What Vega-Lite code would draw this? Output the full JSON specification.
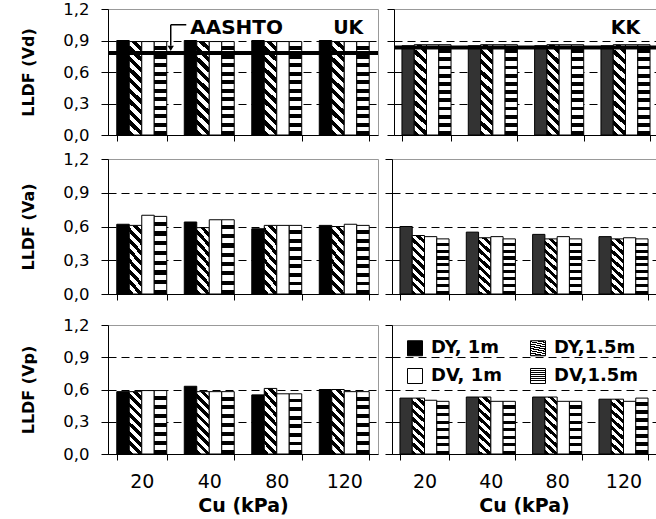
{
  "$schema": "https://vega.github.io/schema/vega-lite/v6.json",
  "padding": {"left": 20, "top": 0, "right": 0, "bottom": 0},
  "background": "white",
  "params": [
    {"name": "hTop", "expr": "{gradient:'linear',x1:0,y1:0,x2:0,y2:1,stops:[{offset:0,color:'#fff'},{offset:0.05,color:'#fff'},{offset:0.05,color:'#000'},{offset:0.0909,color:'#000'},{offset:0.0909,color:'#fff'},{offset:0.1409,color:'#fff'},{offset:0.1409,color:'#000'},{offset:0.1818,color:'#000'},{offset:0.1818,color:'#fff'},{offset:0.2318,color:'#fff'},{offset:0.2318,color:'#000'},{offset:0.2727,color:'#000'},{offset:0.2727,color:'#fff'},{offset:0.3227,color:'#fff'},{offset:0.3227,color:'#000'},{offset:0.3636,color:'#000'},{offset:0.3636,color:'#fff'},{offset:0.4136,color:'#fff'},{offset:0.4136,color:'#000'},{offset:0.4545,color:'#000'},{offset:0.4545,color:'#fff'},{offset:0.5045,color:'#fff'},{offset:0.5045,color:'#000'},{offset:0.5455,color:'#000'},{offset:0.5455,color:'#fff'},{offset:0.5955,color:'#fff'},{offset:0.5955,color:'#000'},{offset:0.6364,color:'#000'},{offset:0.6364,color:'#fff'},{offset:0.6864,color:'#fff'},{offset:0.6864,color:'#000'},{offset:0.7273,color:'#000'},{offset:0.7273,color:'#fff'},{offset:0.7773,color:'#fff'},{offset:0.7773,color:'#000'},{offset:0.8182,color:'#000'},{offset:0.8182,color:'#fff'},{offset:0.8682,color:'#fff'},{offset:0.8682,color:'#000'},{offset:0.9091,color:'#000'},{offset:0.9091,color:'#fff'},{offset:0.9591,color:'#fff'},{offset:0.9591,color:'#000'},{offset:1,color:'#000'}]}"},
    {"name": "hMid", "expr": "{gradient:'linear',x1:0,y1:0,x2:0,y2:1,stops:[{offset:0,color:'#fff'},{offset:0.06875,color:'#fff'},{offset:0.06875,color:'#000'},{offset:0.125,color:'#000'},{offset:0.125,color:'#fff'},{offset:0.19375,color:'#fff'},{offset:0.19375,color:'#000'},{offset:0.25,color:'#000'},{offset:0.25,color:'#fff'},{offset:0.31875,color:'#fff'},{offset:0.31875,color:'#000'},{offset:0.375,color:'#000'},{offset:0.375,color:'#fff'},{offset:0.44375,color:'#fff'},{offset:0.44375,color:'#000'},{offset:0.5,color:'#000'},{offset:0.5,color:'#fff'},{offset:0.56875,color:'#fff'},{offset:0.56875,color:'#000'},{offset:0.625,color:'#000'},{offset:0.625,color:'#fff'},{offset:0.69375,color:'#fff'},{offset:0.69375,color:'#000'},{offset:0.75,color:'#000'},{offset:0.75,color:'#fff'},{offset:0.81875,color:'#fff'},{offset:0.81875,color:'#000'},{offset:0.875,color:'#000'},{offset:0.875,color:'#fff'},{offset:0.94375,color:'#fff'},{offset:0.94375,color:'#000'},{offset:1,color:'#000'}]}"},
    {"name": "hBot", "expr": "{gradient:'linear',x1:0,y1:0,x2:0,y2:1,stops:[{offset:0,color:'#fff'},{offset:0.0786,color:'#fff'},{offset:0.0786,color:'#000'},{offset:0.1429,color:'#000'},{offset:0.1429,color:'#fff'},{offset:0.2214,color:'#fff'},{offset:0.2214,color:'#000'},{offset:0.2857,color:'#000'},{offset:0.2857,color:'#fff'},{offset:0.3643,color:'#fff'},{offset:0.3643,color:'#000'},{offset:0.4286,color:'#000'},{offset:0.4286,color:'#fff'},{offset:0.5071,color:'#fff'},{offset:0.5071,color:'#000'},{offset:0.5714,color:'#000'},{offset:0.5714,color:'#fff'},{offset:0.65,color:'#fff'},{offset:0.65,color:'#000'},{offset:0.7143,color:'#000'},{offset:0.7143,color:'#fff'},{offset:0.7929,color:'#fff'},{offset:0.7929,color:'#000'},{offset:0.8571,color:'#000'},{offset:0.8571,color:'#fff'},{offset:0.9357,color:'#fff'},{offset:0.9357,color:'#000'},{offset:1,color:'#000'}]}"},
    {"name": "dTop", "expr": "{gradient:'linear',x1:1,y1:0,x2:0.856,y2:1.111,stops:[{offset:0,color:'#fff'},{offset:0.05,color:'#fff'},{offset:0.05,color:'#000'},{offset:0.1,color:'#000'},{offset:0.1,color:'#fff'},{offset:0.15,color:'#fff'},{offset:0.15,color:'#000'},{offset:0.2,color:'#000'},{offset:0.2,color:'#fff'},{offset:0.25,color:'#fff'},{offset:0.25,color:'#000'},{offset:0.3,color:'#000'},{offset:0.3,color:'#fff'},{offset:0.35,color:'#fff'},{offset:0.35,color:'#000'},{offset:0.4,color:'#000'},{offset:0.4,color:'#fff'},{offset:0.45,color:'#fff'},{offset:0.45,color:'#000'},{offset:0.5,color:'#000'},{offset:0.5,color:'#fff'},{offset:0.55,color:'#fff'},{offset:0.55,color:'#000'},{offset:0.6,color:'#000'},{offset:0.6,color:'#fff'},{offset:0.65,color:'#fff'},{offset:0.65,color:'#000'},{offset:0.7,color:'#000'},{offset:0.7,color:'#fff'},{offset:0.75,color:'#fff'},{offset:0.75,color:'#000'},{offset:0.8,color:'#000'},{offset:0.8,color:'#fff'},{offset:0.85,color:'#fff'},{offset:0.85,color:'#000'},{offset:0.9,color:'#000'},{offset:0.9,color:'#fff'},{offset:0.95,color:'#fff'},{offset:0.95,color:'#000'},{offset:1,color:'#000'}]}"},
    {"name": "dMid", "expr": "{gradient:'linear',x1:1,y1:0,x2:0.769,y2:1.154,stops:[{offset:0,color:'#fff'},{offset:0.0625,color:'#fff'},{offset:0.0625,color:'#000'},{offset:0.125,color:'#000'},{offset:0.125,color:'#fff'},{offset:0.1875,color:'#fff'},{offset:0.1875,color:'#000'},{offset:0.25,color:'#000'},{offset:0.25,color:'#fff'},{offset:0.3125,color:'#fff'},{offset:0.3125,color:'#000'},{offset:0.375,color:'#000'},{offset:0.375,color:'#fff'},{offset:0.4375,color:'#fff'},{offset:0.4375,color:'#000'},{offset:0.5,color:'#000'},{offset:0.5,color:'#fff'},{offset:0.5625,color:'#fff'},{offset:0.5625,color:'#000'},{offset:0.625,color:'#000'},{offset:0.625,color:'#fff'},{offset:0.6875,color:'#fff'},{offset:0.6875,color:'#000'},{offset:0.75,color:'#000'},{offset:0.75,color:'#fff'},{offset:0.8125,color:'#fff'},{offset:0.8125,color:'#000'},{offset:0.875,color:'#000'},{offset:0.875,color:'#fff'},{offset:0.9375,color:'#fff'},{offset:0.9375,color:'#000'},{offset:1,color:'#000'}]}"},
    {"name": "lDiag", "expr": "{gradient:'linear',x1:1,y1:0,x2:0,y2:1,stops:[{offset:0,color:'#fff'},{offset:0.1667,color:'#fff'},{offset:0.1667,color:'#000'},{offset:0.3333,color:'#000'},{offset:0.3333,color:'#fff'},{offset:0.5,color:'#fff'},{offset:0.5,color:'#000'},{offset:0.6667,color:'#000'},{offset:0.6667,color:'#fff'},{offset:0.8333,color:'#fff'},{offset:0.8333,color:'#000'},{offset:1,color:'#000'}]}"},
    {"name": "lHor", "expr": "{gradient:'linear',x1:0,y1:0,x2:0,y2:1,stops:[{offset:0,color:'#fff'},{offset:0.1833,color:'#fff'},{offset:0.1833,color:'#000'},{offset:0.3333,color:'#000'},{offset:0.3333,color:'#fff'},{offset:0.5167,color:'#fff'},{offset:0.5167,color:'#000'},{offset:0.6667,color:'#000'},{offset:0.6667,color:'#fff'},{offset:0.85,color:'#fff'},{offset:0.85,color:'#000'},{offset:1,color:'#000'}]}"}
  ],
  "datasets": {
    "bars": [
      {"s":"UK","c":"Vd","cu":"20","series":"DY, 1m","v":0.90},{"s":"UK","c":"Vd","cu":"20","series":"DY,1.5m","v":0.89},{"s":"UK","c":"Vd","cu":"20","series":"DV, 1m","v":0.89},{"s":"UK","c":"Vd","cu":"20","series":"DV,1.5m","v":0.89},
      {"s":"UK","c":"Vd","cu":"40","series":"DY, 1m","v":0.90},{"s":"UK","c":"Vd","cu":"40","series":"DY,1.5m","v":0.89},{"s":"UK","c":"Vd","cu":"40","series":"DV, 1m","v":0.89},{"s":"UK","c":"Vd","cu":"40","series":"DV,1.5m","v":0.89},
      {"s":"UK","c":"Vd","cu":"80","series":"DY, 1m","v":0.90},{"s":"UK","c":"Vd","cu":"80","series":"DY,1.5m","v":0.89},{"s":"UK","c":"Vd","cu":"80","series":"DV, 1m","v":0.89},{"s":"UK","c":"Vd","cu":"80","series":"DV,1.5m","v":0.89},
      {"s":"UK","c":"Vd","cu":"120","series":"DY, 1m","v":0.90},{"s":"UK","c":"Vd","cu":"120","series":"DY,1.5m","v":0.89},{"s":"UK","c":"Vd","cu":"120","series":"DV, 1m","v":0.89},{"s":"UK","c":"Vd","cu":"120","series":"DV,1.5m","v":0.89},
      {"s":"KK","c":"Vd","cu":"20","series":"DY, 1m","v":0.85},{"s":"KK","c":"Vd","cu":"20","series":"DY,1.5m","v":0.86},{"s":"KK","c":"Vd","cu":"20","series":"DV, 1m","v":0.86},{"s":"KK","c":"Vd","cu":"20","series":"DV,1.5m","v":0.86},
      {"s":"KK","c":"Vd","cu":"40","series":"DY, 1m","v":0.85},{"s":"KK","c":"Vd","cu":"40","series":"DY,1.5m","v":0.86},{"s":"KK","c":"Vd","cu":"40","series":"DV, 1m","v":0.86},{"s":"KK","c":"Vd","cu":"40","series":"DV,1.5m","v":0.86},
      {"s":"KK","c":"Vd","cu":"80","series":"DY, 1m","v":0.85},{"s":"KK","c":"Vd","cu":"80","series":"DY,1.5m","v":0.86},{"s":"KK","c":"Vd","cu":"80","series":"DV, 1m","v":0.86},{"s":"KK","c":"Vd","cu":"80","series":"DV,1.5m","v":0.86},
      {"s":"KK","c":"Vd","cu":"120","series":"DY, 1m","v":0.85},{"s":"KK","c":"Vd","cu":"120","series":"DY,1.5m","v":0.86},{"s":"KK","c":"Vd","cu":"120","series":"DV, 1m","v":0.86},{"s":"KK","c":"Vd","cu":"120","series":"DV,1.5m","v":0.86},
      {"s":"UK","c":"Va","cu":"20","series":"DY, 1m","v":0.62},{"s":"UK","c":"Va","cu":"20","series":"DY,1.5m","v":0.61},{"s":"UK","c":"Va","cu":"20","series":"DV, 1m","v":0.70},{"s":"UK","c":"Va","cu":"20","series":"DV,1.5m","v":0.69},
      {"s":"UK","c":"Va","cu":"40","series":"DY, 1m","v":0.64},{"s":"UK","c":"Va","cu":"40","series":"DY,1.5m","v":0.59},{"s":"UK","c":"Va","cu":"40","series":"DV, 1m","v":0.66},{"s":"UK","c":"Va","cu":"40","series":"DV,1.5m","v":0.66},
      {"s":"UK","c":"Va","cu":"80","series":"DY, 1m","v":0.58},{"s":"UK","c":"Va","cu":"80","series":"DY,1.5m","v":0.61},{"s":"UK","c":"Va","cu":"80","series":"DV, 1m","v":0.61},{"s":"UK","c":"Va","cu":"80","series":"DV,1.5m","v":0.61},
      {"s":"UK","c":"Va","cu":"120","series":"DY, 1m","v":0.61},{"s":"UK","c":"Va","cu":"120","series":"DY,1.5m","v":0.60},{"s":"UK","c":"Va","cu":"120","series":"DV, 1m","v":0.62},{"s":"UK","c":"Va","cu":"120","series":"DV,1.5m","v":0.61},
      {"s":"KK","c":"Va","cu":"20","series":"DY, 1m","v":0.60},{"s":"KK","c":"Va","cu":"20","series":"DY,1.5m","v":0.52},{"s":"KK","c":"Va","cu":"20","series":"DV, 1m","v":0.51},{"s":"KK","c":"Va","cu":"20","series":"DV,1.5m","v":0.49},
      {"s":"KK","c":"Va","cu":"40","series":"DY, 1m","v":0.55},{"s":"KK","c":"Va","cu":"40","series":"DY,1.5m","v":0.50},{"s":"KK","c":"Va","cu":"40","series":"DV, 1m","v":0.51},{"s":"KK","c":"Va","cu":"40","series":"DV,1.5m","v":0.49},
      {"s":"KK","c":"Va","cu":"80","series":"DY, 1m","v":0.53},{"s":"KK","c":"Va","cu":"80","series":"DY,1.5m","v":0.49},{"s":"KK","c":"Va","cu":"80","series":"DV, 1m","v":0.51},{"s":"KK","c":"Va","cu":"80","series":"DV,1.5m","v":0.49},
      {"s":"KK","c":"Va","cu":"120","series":"DY, 1m","v":0.51},{"s":"KK","c":"Va","cu":"120","series":"DY,1.5m","v":0.49},{"s":"KK","c":"Va","cu":"120","series":"DV, 1m","v":0.50},{"s":"KK","c":"Va","cu":"120","series":"DV,1.5m","v":0.49},
      {"s":"UK","c":"Vp","cu":"20","series":"DY, 1m","v":0.58},{"s":"UK","c":"Vp","cu":"20","series":"DY,1.5m","v":0.58},{"s":"UK","c":"Vp","cu":"20","series":"DV, 1m","v":0.59},{"s":"UK","c":"Vp","cu":"20","series":"DV,1.5m","v":0.59},
      {"s":"UK","c":"Vp","cu":"40","series":"DY, 1m","v":0.63},{"s":"UK","c":"Vp","cu":"40","series":"DY,1.5m","v":0.58},{"s":"UK","c":"Vp","cu":"40","series":"DV, 1m","v":0.58},{"s":"UK","c":"Vp","cu":"40","series":"DV,1.5m","v":0.58},
      {"s":"UK","c":"Vp","cu":"80","series":"DY, 1m","v":0.55},{"s":"UK","c":"Vp","cu":"80","series":"DY,1.5m","v":0.61},{"s":"UK","c":"Vp","cu":"80","series":"DV, 1m","v":0.56},{"s":"UK","c":"Vp","cu":"80","series":"DV,1.5m","v":0.56},
      {"s":"UK","c":"Vp","cu":"120","series":"DY, 1m","v":0.60},{"s":"UK","c":"Vp","cu":"120","series":"DY,1.5m","v":0.60},{"s":"UK","c":"Vp","cu":"120","series":"DV, 1m","v":0.58},{"s":"UK","c":"Vp","cu":"120","series":"DV,1.5m","v":0.58},
      {"s":"KK","c":"Vp","cu":"20","series":"DY, 1m","v":0.52},{"s":"KK","c":"Vp","cu":"20","series":"DY,1.5m","v":0.52},{"s":"KK","c":"Vp","cu":"20","series":"DV, 1m","v":0.50},{"s":"KK","c":"Vp","cu":"20","series":"DV,1.5m","v":0.49},
      {"s":"KK","c":"Vp","cu":"40","series":"DY, 1m","v":0.53},{"s":"KK","c":"Vp","cu":"40","series":"DY,1.5m","v":0.53},{"s":"KK","c":"Vp","cu":"40","series":"DV, 1m","v":0.49},{"s":"KK","c":"Vp","cu":"40","series":"DV,1.5m","v":0.49},
      {"s":"KK","c":"Vp","cu":"80","series":"DY, 1m","v":0.53},{"s":"KK","c":"Vp","cu":"80","series":"DY,1.5m","v":0.53},{"s":"KK","c":"Vp","cu":"80","series":"DV, 1m","v":0.49},{"s":"KK","c":"Vp","cu":"80","series":"DV,1.5m","v":0.49},
      {"s":"KK","c":"Vp","cu":"120","series":"DY, 1m","v":0.51},{"s":"KK","c":"Vp","cu":"120","series":"DY,1.5m","v":0.51},{"s":"KK","c":"Vp","cu":"120","series":"DV, 1m","v":0.49},{"s":"KK","c":"Vp","cu":"120","series":"DV,1.5m","v":0.52}
    ],
    "aashto": [{"s":"UK","v":0.78},{"s":"KK","v":0.834}]
  },
  "config": {
    "font": "DejaVu Sans",
    "view": {"stroke": "#999", "strokeWidth": 1},
    "axis": {"domainColor": "#000", "tickColor": "#000", "labelColor": "#000", "titleColor": "#000", "labelFont": "DejaVu Sans", "titleFont": "DejaVu Sans", "domainWidth": 1, "tickWidth": 1, "labelOverlap": false}
  },
  "resolve": {"scale": {"fill": "independent", "xOffset": "independent"}, "legend": {"fill": "independent"}},
  "spacing": 6,
  "vconcat": [
    {
      "spacing": 5,
      "resolve": {"scale": {"fill": "independent", "xOffset": "independent"}, "legend": {"fill": "independent"}},
      "hconcat": [
        {
          "width": 270, "height": 126,
          "layer": [
            {
              "data": {"name": "bars"},
              "transform": [{"filter": "datum.s === 'UK' && datum.c === 'Vd'"}],
              "mark": {"type": "bar", "stroke": "#000", "strokeWidth": 1},
              "encoding": {
                "x": {"field": "cu", "type": "nominal", "sort": ["20","40","80","120"], "scale": {"paddingInner": 0.26, "paddingOuter": 0.13}, "axis": {"title": null, "labels": false, "ticks": true, "tickSize": 6, "tickBand": "extent", "grid": false}},
                "xOffset": {"field": "series", "type": "nominal", "sort": ["DY, 1m","DY,1.5m","DV, 1m","DV,1.5m"], "scale": {"paddingInner": 0, "paddingOuter": 0}},
                "y": {"field": "v", "type": "quantitative", "scale": {"domain": [0, 1.2], "nice": false}, "axis": {"title": "LLDF (Vd)", "values": [0, 0.3, 0.6, 0.9, 1.2], "labelExpr": "replace(format(datum.value, '.1f'), '.', ',')", "labelFontSize": 16.5, "labelPadding": 12, "labelOverlap": false, "tickSize": 7, "grid": true, "gridDash": [8, 5], "gridColor": {"condition": {"test": "datum.value >= 1.19", "value": "#999"}, "value": "#000"}, "titleFontSize": 16, "titleFontWeight": "bold", "titlePadding": 26}},
                "fill": {"field": "series", "type": "nominal", "scale": {"domain": ["DY, 1m","DY,1.5m","DV, 1m","DV,1.5m"], "range": ["#000000", {"expr": "dTop"}, "#ffffff", {"expr": "hTop"}]}, "legend": null}
              }
            },
            {
              "data": {"name": "aashto"},
              "transform": [{"filter": "datum.s === 'UK'"}],
              "mark": {"type": "rule", "strokeWidth": 4, "color": "#000"},
              "encoding": {"y": {"field": "v", "type": "quantitative", "axis": {"title": "LLDF (Vd)", "values": [0, 0.3, 0.6, 0.9, 1.2], "labelExpr": "replace(format(datum.value, '.1f'), '.', ',')", "labelFontSize": 16.5, "labelPadding": 12, "labelOverlap": false, "tickSize": 7, "grid": true, "gridDash": [8, 5], "gridColor": {"condition": {"test": "datum.value >= 1.19", "value": "#999"}, "value": "#000"}, "titleFontSize": 16, "titleFontWeight": "bold", "titlePadding": 26}}}
            },
            {
              "data": {"values": [{"label": "UK"}]},
              "mark": {"type": "text", "fontSize": 19, "fontWeight": "bold", "font": "DejaVu Sans", "align": "center", "baseline": "alphabetic", "dx": 4, "color": "#000"},
              "encoding": {"x": {"datum": "120"}, "y": {"datum": 0.96, "type": "quantitative", "axis": {"title": "LLDF (Vd)", "values": [0, 0.3, 0.6, 0.9, 1.2], "labelExpr": "replace(format(datum.value, '.1f'), '.', ',')", "labelFontSize": 16.5, "labelPadding": 12, "labelOverlap": false, "tickSize": 7, "grid": true, "gridDash": [8, 5], "gridColor": {"condition": {"test": "datum.value >= 1.19", "value": "#999"}, "value": "#000"}, "titleFontSize": 16, "titleFontWeight": "bold", "titlePadding": 26}}, "text": {"field": "label"}}
            },
            {
              "data": {"values": [{"label": "AASHTO"}]},
              "mark": {"type": "text", "fontSize": 20, "fontWeight": "bold", "font": "DejaVu Sans", "align": "left", "baseline": "alphabetic", "dx": -19, "color": "#000"},
              "encoding": {"x": {"datum": "40"}, "y": {"datum": 0.96, "type": "quantitative", "axis": {"title": "LLDF (Vd)", "values": [0, 0.3, 0.6, 0.9, 1.2], "labelExpr": "replace(format(datum.value, '.1f'), '.', ',')", "labelFontSize": 16.5, "labelPadding": 12, "labelOverlap": false, "tickSize": 7, "grid": true, "gridDash": [8, 5], "gridColor": {"condition": {"test": "datum.value >= 1.19", "value": "#999"}, "value": "#000"}, "titleFontSize": 16, "titleFontWeight": "bold", "titlePadding": 26}}, "text": {"field": "label"}}
            },
            {
              "data": {"values": [{"a": 1}]},
              "mark": {"type": "rule", "strokeWidth": 1.5, "color": "#000", "xOffset": 4},
              "encoding": {"x": {"datum": "20", "bandPosition": 1}, "y": {"datum": 1.05, "type": "quantitative", "axis": {"title": "LLDF (Vd)", "values": [0, 0.3, 0.6, 0.9, 1.2], "labelExpr": "replace(format(datum.value, '.1f'), '.', ',')", "labelFontSize": 16.5, "labelPadding": 12, "labelOverlap": false, "tickSize": 7, "grid": true, "gridDash": [8, 5], "gridColor": {"condition": {"test": "datum.value >= 1.19", "value": "#999"}, "value": "#000"}, "titleFontSize": 16, "titleFontWeight": "bold", "titlePadding": 26}}, "y2": {"datum": 0.85}}
            },
            {
              "data": {"values": [{"a": 1}]},
              "mark": {"type": "rule", "strokeWidth": 1.5, "color": "#000", "xOffset": 4, "x2Offset": 2},
              "encoding": {"x": {"datum": "20", "bandPosition": 1}, "x2": {"datum": "40", "bandPosition": 0}, "y": {"datum": 1.05, "type": "quantitative", "axis": {"title": "LLDF (Vd)", "values": [0, 0.3, 0.6, 0.9, 1.2], "labelExpr": "replace(format(datum.value, '.1f'), '.', ',')", "labelFontSize": 16.5, "labelPadding": 12, "labelOverlap": false, "tickSize": 7, "grid": true, "gridDash": [8, 5], "gridColor": {"condition": {"test": "datum.value >= 1.19", "value": "#999"}, "value": "#000"}, "titleFontSize": 16, "titleFontWeight": "bold", "titlePadding": 26}}}
            },
            {
              "data": {"values": [{"a": 1}]},
              "mark": {"type": "point", "shape": "triangle-down", "filled": true, "color": "#000", "size": 40, "opacity": 1, "xOffset": 4},
              "encoding": {"x": {"datum": "20", "bandPosition": 1}, "y": {"datum": 0.825, "type": "quantitative", "axis": {"title": "LLDF (Vd)", "values": [0, 0.3, 0.6, 0.9, 1.2], "labelExpr": "replace(format(datum.value, '.1f'), '.', ',')", "labelFontSize": 16.5, "labelPadding": 12, "labelOverlap": false, "tickSize": 7, "grid": true, "gridDash": [8, 5], "gridColor": {"condition": {"test": "datum.value >= 1.19", "value": "#999"}, "value": "#000"}, "titleFontSize": 16, "titleFontWeight": "bold", "titlePadding": 26}}}
            }
          ]
        },
        {
          "width": 264, "height": 126,
          "layer": [
            {
              "data": {"name": "bars"},
              "transform": [{"filter": "datum.s === 'KK' && datum.c === 'Vd'"}],
              "mark": {"type": "bar", "stroke": "#000", "strokeWidth": 1},
              "encoding": {
                "x": {"field": "cu", "type": "nominal", "sort": ["20","40","80","120"], "scale": {"paddingInner": 0.26, "paddingOuter": 0.12}, "axis": {"title": null, "labels": false, "ticks": true, "tickSize": 6, "tickBand": "extent", "grid": false}},
                "xOffset": {"field": "series", "type": "nominal", "sort": ["DY, 1m","DY,1.5m","DV, 1m","DV,1.5m"], "scale": {"paddingInner": 0, "paddingOuter": 0}},
                "y": {"field": "v", "type": "quantitative", "scale": {"domain": [0, 1.2], "nice": false}, "axis": {"title": null, "labels": false, "values": [0, 0.3, 0.6, 0.9, 1.2], "tickSize": 7, "grid": true, "gridDash": [8, 5], "gridColor": {"condition": {"test": "datum.value >= 1.19", "value": "#999"}, "value": "#000"}}},
                "fill": {"condition": {"test": "datum.series === 'DY, 1m'", "value": "#333333"}, "field": "series", "type": "nominal", "scale": {"domain": ["DY, 1m","DY,1.5m","DV, 1m","DV,1.5m"], "range": ["#000000", {"expr": "dTop"}, "#ffffff", {"expr": "hTop"}]}, "legend": null}
              }
            },
            {
              "data": {"name": "aashto"},
              "transform": [{"filter": "datum.s === 'KK'"}],
              "mark": {"type": "rule", "strokeWidth": 4, "color": "#000"},
              "encoding": {"y": {"field": "v", "type": "quantitative", "axis": {"title": null, "labels": false, "values": [0, 0.3, 0.6, 0.9, 1.2], "tickSize": 7, "grid": true, "gridDash": [8, 5], "gridColor": {"condition": {"test": "datum.value >= 1.19", "value": "#999"}, "value": "#000"}}}}
            },
            {
              "data": {"values": [{"label": "KK"}]},
              "mark": {"type": "text", "fontSize": 19, "fontWeight": "bold", "font": "DejaVu Sans", "align": "center", "baseline": "alphabetic", "color": "#000"},
              "encoding": {"x": {"datum": "120"}, "y": {"datum": 0.96, "type": "quantitative", "axis": {"title": null, "labels": false, "values": [0, 0.3, 0.6, 0.9, 1.2], "tickSize": 7, "grid": true, "gridDash": [8, 5], "gridColor": {"condition": {"test": "datum.value >= 1.19", "value": "#999"}, "value": "#000"}}}, "text": {"field": "label"}}
            }
          ]
        }
      ]
    },
    {
      "spacing": 13,
      "resolve": {"scale": {"fill": "independent", "xOffset": "independent"}, "legend": {"fill": "independent"}},
      "vconcat": [
        {
          "spacing": 5,
          "resolve": {"scale": {"fill": "independent", "xOffset": "independent"}, "legend": {"fill": "independent"}},
          "hconcat": [
            {
              "width": 270, "height": 135,
              "data": {"name": "bars"},
              "transform": [{"filter": "datum.s === 'UK' && datum.c === 'Va'"}],
              "mark": {"type": "bar", "stroke": "#000", "strokeWidth": 1},
              "encoding": {
                "x": {"field": "cu", "type": "nominal", "sort": ["20","40","80","120"], "scale": {"paddingInner": 0.26, "paddingOuter": 0.13}, "axis": {"title": null, "labels": false, "ticks": true, "tickSize": 6, "tickBand": "extent", "grid": false}},
                "xOffset": {"field": "series", "type": "nominal", "sort": ["DY, 1m","DY,1.5m","DV, 1m","DV,1.5m"], "scale": {"paddingInner": 0, "paddingOuter": 0}},
                "y": {"field": "v", "type": "quantitative", "scale": {"domain": [0, 1.2], "nice": false}, "axis": {"title": "LLDF (Va)", "values": [0, 0.3, 0.6, 0.9, 1.2], "labelExpr": "replace(format(datum.value, '.1f'), '.', ',')", "labelFontSize": 16.5, "labelPadding": 12, "labelOverlap": false, "tickSize": 7, "grid": true, "gridDash": [8, 5], "gridColor": {"condition": {"test": "datum.value >= 1.19", "value": "#999"}, "value": "#000"}, "titleFontSize": 16, "titleFontWeight": "bold", "titlePadding": 26}},
                "fill": {"field": "series", "type": "nominal", "scale": {"domain": ["DY, 1m","DY,1.5m","DV, 1m","DV,1.5m"], "range": ["#000000", {"expr": "dMid"}, "#ffffff", {"expr": "hMid"}]}, "legend": null}
              }
            },
            {
              "width": 264, "height": 135,
              "data": {"name": "bars"},
              "transform": [{"filter": "datum.s === 'KK' && datum.c === 'Va'"}],
              "mark": {"type": "bar", "stroke": "#000", "strokeWidth": 1},
              "encoding": {
                "x": {"field": "cu", "type": "nominal", "sort": ["20","40","80","120"], "scale": {"paddingInner": 0.26, "paddingOuter": 0.12}, "axis": {"title": null, "labels": false, "ticks": true, "tickSize": 6, "tickBand": "extent", "grid": false}},
                "xOffset": {"field": "series", "type": "nominal", "sort": ["DY, 1m","DY,1.5m","DV, 1m","DV,1.5m"], "scale": {"paddingInner": 0, "paddingOuter": 0}},
                "y": {"field": "v", "type": "quantitative", "scale": {"domain": [0, 1.2], "nice": false}, "axis": {"title": null, "labels": false, "values": [0, 0.3, 0.6, 0.9, 1.2], "tickSize": 7, "grid": true, "gridDash": [8, 5], "gridColor": {"condition": {"test": "datum.value >= 1.19", "value": "#999"}, "value": "#000"}}},
                "fill": {"condition": {"test": "datum.series === 'DY, 1m'", "value": "#333333"}, "field": "series", "type": "nominal", "scale": {"domain": ["DY, 1m","DY,1.5m","DV, 1m","DV,1.5m"], "range": ["#000000", {"expr": "dMid"}, "#ffffff", {"expr": "hMid"}]}, "legend": null}
              }
            }
          ]
        },
        {
          "spacing": 5,
          "resolve": {"scale": {"fill": "independent", "xOffset": "independent"}, "legend": {"fill": "independent"}},
          "hconcat": [
            {
              "width": 270, "height": 129,
              "data": {"name": "bars"},
              "transform": [{"filter": "datum.s === 'UK' && datum.c === 'Vp'"}],
              "mark": {"type": "bar", "stroke": "#000", "strokeWidth": 1},
              "encoding": {
                "x": {"field": "cu", "type": "nominal", "sort": ["20","40","80","120"], "scale": {"paddingInner": 0.26, "paddingOuter": 0.13}, "axis": {"title": "Cu (kPa)", "labels": true, "labelAngle": 0, "labelFontSize": 19, "labelPadding": 12, "ticks": true, "tickSize": 6, "tickBand": "extent", "grid": false, "titleFontSize": 19, "titleFontWeight": "bold", "titlePadding": 5}},
                "xOffset": {"field": "series", "type": "nominal", "sort": ["DY, 1m","DY,1.5m","DV, 1m","DV,1.5m"], "scale": {"paddingInner": 0, "paddingOuter": 0}},
                "y": {"field": "v", "type": "quantitative", "scale": {"domain": [0, 1.2], "nice": false}, "axis": {"title": "LLDF (Vp)", "values": [0, 0.3, 0.6, 0.9, 1.2], "labelExpr": "replace(format(datum.value, '.1f'), '.', ',')", "labelFontSize": 16.5, "labelPadding": 12, "labelOverlap": false, "tickSize": 7, "grid": true, "gridDash": [8, 5], "gridColor": {"condition": {"test": "datum.value >= 1.19", "value": "#999"}, "value": "#000"}, "titleFontSize": 16, "titleFontWeight": "bold", "titlePadding": 26}},
                "fill": {"field": "series", "type": "nominal", "scale": {"domain": ["DY, 1m","DY,1.5m","DV, 1m","DV,1.5m"], "range": ["#000000", {"expr": "dMid"}, "#ffffff", {"expr": "hBot"}]}, "legend": null}
              }
            },
            {
              "width": 264, "height": 129,
              "data": {"name": "bars"},
              "transform": [{"filter": "datum.s === 'KK' && datum.c === 'Vp'"}],
              "mark": {"type": "bar", "stroke": "#000", "strokeWidth": 1},
              "encoding": {
                "x": {"field": "cu", "type": "nominal", "sort": ["20","40","80","120"], "scale": {"paddingInner": 0.26, "paddingOuter": 0.12}, "axis": {"title": "Cu (kPa)", "labels": true, "labelAngle": 0, "labelFontSize": 19, "labelPadding": 12, "ticks": true, "tickSize": 6, "tickBand": "extent", "grid": false, "titleFontSize": 19, "titleFontWeight": "bold", "titlePadding": 5}},
                "xOffset": {"field": "series", "type": "nominal", "sort": ["DY, 1m","DY,1.5m","DV, 1m","DV,1.5m"], "scale": {"paddingInner": 0, "paddingOuter": 0}},
                "y": {"field": "v", "type": "quantitative", "scale": {"domain": [0, 1.2], "nice": false}, "axis": {"title": null, "labels": false, "values": [0, 0.3, 0.6, 0.9, 1.2], "tickSize": 7, "grid": true, "gridDash": [8, 5], "gridColor": {"condition": {"test": "datum.value >= 1.19", "value": "#999"}, "value": "#000"}}},
                "fill": {"condition": {"test": "datum.series === 'DY, 1m'", "value": "#333333"}, "field": "series", "type": "nominal", "scale": {"domain": ["DY, 1m","DV, 1m","DY,1.5m","DV,1.5m"], "range": ["#000000", "#ffffff", {"expr": "dMid"}, {"expr": "hBot"}]},
                  "legend": {"orient": "none", "legendX": 14, "legendY": 14, "columns": 2, "title": null, "symbolType": "square", "symbolSize": 225, "symbolStrokeColor": "#000", "symbolStrokeWidth": 1, "labelFontSize": 18, "labelFontWeight": "bold", "labelFont": "DejaVu Sans", "labelColor": "#000", "labelOffset": 7, "columnPadding": 26, "rowPadding": 8, "padding": 0, "labelLimit": 200,
                    "encode": {"symbols": {"update": {"fill": {"signal": "datum.value === 'DY,1.5m' ? lDiag : datum.value === 'DV,1.5m' ? lHor : datum.value === 'DY, 1m' ? '#000' : '#fff'"}, "opacity": {"value": 1}, "stroke": {"value": "#000"}}}}}}
              }
            }
          ]
        }
      ]
    }
  ]
}
